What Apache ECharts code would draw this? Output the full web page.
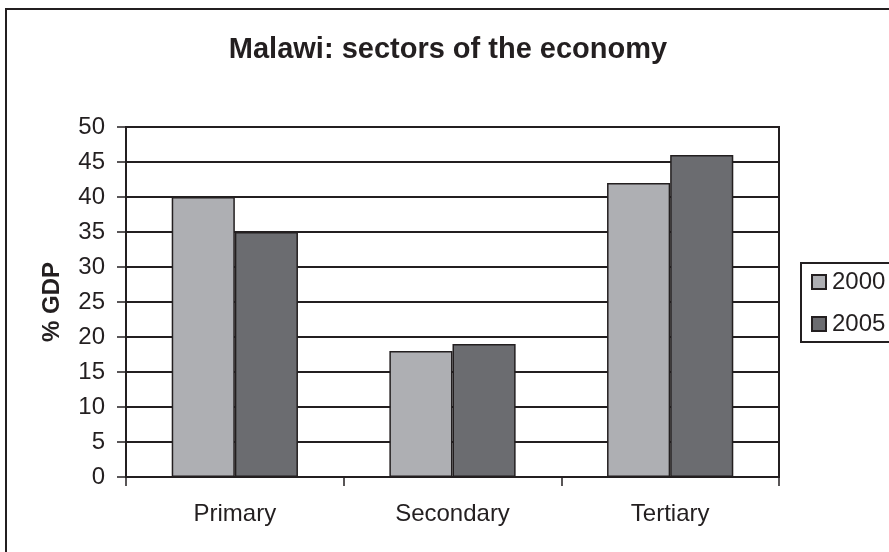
<!DOCTYPE html>
<html>
<head>
<meta charset="utf-8">
<script src="https://cdn.jsdelivr.net/npm/echarts@6/dist/echarts.min.js"></script>
<style>
html,body{margin:0;padding:0;background:#fff;}
#c{width:889px;height:552px;}
</style>
</head>
<body>
<div id="c"></div>
<script>
const categories = ['Primary', 'Secondary', 'Tertiary'];
const seriesNames = ['2000', '2005'];
const values2000 = [40, 18, 42];
const values2005 = [35, 19, 46];
const yTicks = [0, 5, 10, 15, 20, 25, 30, 35, 40, 45, 50];

const FONT = '"Liberation Sans", Arial, sans-serif';
const DARK = '#231f20';
const chart = echarts.init(document.getElementById('c'), null, {renderer: 'canvas'});
chart.setOption({
  animation: false,
  backgroundColor: '#fff',
  title: {
    text: 'Malawi: sectors of the economy',
    left: 443, top: 30, textAlign: 'center',
    textStyle: {fontFamily: FONT, fontWeight: 'bold', fontSize: 29, color: DARK}
  },
  graphic: [
    {type: 'rect', shape: {x: 6, y: 9, width: 900, height: 560},
     style: {fill: 'none', stroke: DARK, lineWidth: 2}, silent: true},
    {type: 'rect', shape: {x: 801, y: 263, width: 100, height: 79},
     style: {fill: '#fff', stroke: DARK, lineWidth: 2}, z: 1}
  ],
  legend: {
    data: seriesNames,
    orient: 'vertical',
    left: 806, top: 265,
    itemWidth: 14, itemHeight: 14, itemGap: 18,
    icon: 'rect',
    z: 10,
    textStyle: {fontFamily: FONT, fontSize: 24, color: DARK, padding: [0, 0, 0, 1]}
  },
  grid: {
    left: 126, right: 110, top: 127, bottom: 75,
    show: true, borderColor: DARK, borderWidth: 2
  },
  xAxis: {
    type: 'category',
    data: categories,
    axisLine: {lineStyle: {color: DARK, width: 2}},
    axisTick: {show: true, length: 9, lineStyle: {color: DARK, width: 1.5}},
    axisLabel: {fontFamily: FONT, fontSize: 24, color: DARK, margin: 25}
  },
  yAxis: {
    type: 'value',
    min: yTicks[0], max: yTicks[yTicks.length - 1], interval: 5,
    name: '% GDP',
    nameLocation: 'middle',
    nameGap: 62,
    nameTextStyle: {fontFamily: FONT, fontWeight: 'bold', fontSize: 24, color: DARK},
    axisLine: {show: true, lineStyle: {color: DARK, width: 2}},
    axisTick: {show: true, length: 9, lineStyle: {color: DARK, width: 1.5}},
    axisLabel: {fontFamily: FONT, fontSize: 24, color: DARK, margin: 21},
    splitLine: {lineStyle: {color: DARK, width: 2}}
  },
  series: [
    {name: seriesNames[0], type: 'bar', data: values2000, barGap: '0%', barCategoryGap: '42%',
     itemStyle: {color: '#aeafb3', borderColor: DARK, borderWidth: 1.5}},
    {name: seriesNames[1], type: 'bar', data: values2005, barGap: '0%', barCategoryGap: '42%',
     itemStyle: {color: '#6b6c70', borderColor: DARK, borderWidth: 1.5}}
  ]
});
</script>
</body>
</html>
